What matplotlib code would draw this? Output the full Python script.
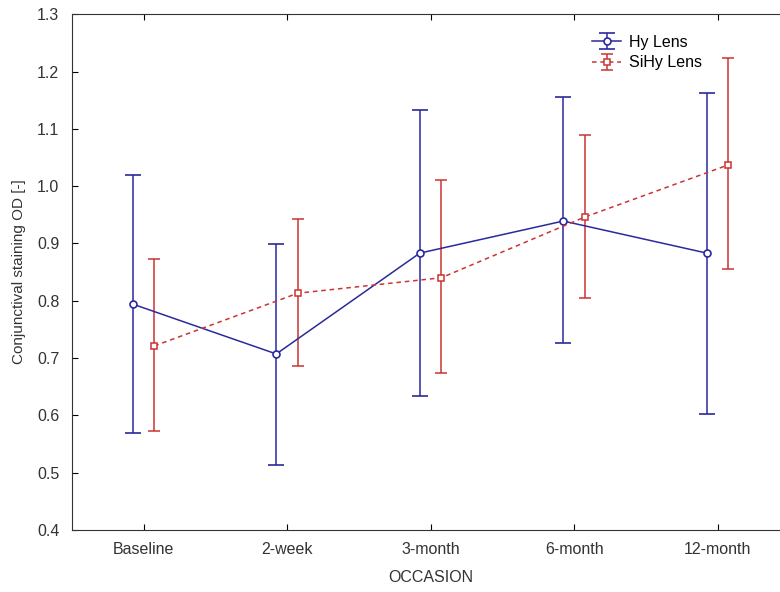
import matplotlib
matplotlib.use("Agg")
import matplotlib.pyplot as plt
import numpy as np

plt.rcParams['font.family'] = ['Liberation Sans', 'DejaVu Sans']

# données
occasions = ["Baseline", "2-week", "3-month", "6-month", "12-month"]
hy_moy = [0.794, 0.707, 0.883, 0.939, 0.883]
hy_haut = [1.020, 0.899, 1.132, 1.155, 1.162]
hy_bas = [0.569, 0.513, 0.634, 0.726, 0.602]
sihy_moy = [0.721, 0.813, 0.840, 0.946, 1.037]
sihy_haut = [0.873, 0.942, 1.010, 1.090, 1.224]
sihy_bas = [0.573, 0.686, 0.674, 0.805, 0.855]

x = np.arange(len(occasions))
bleu = '#2a2a9c'
rouge = '#cc3333'

fig = plt.figure(figsize=(7.8, 5.92), dpi=100)
# l'axe déborde à droite, comme sur l'original (bord droit coupé)
ax = fig.add_axes([0.092, 0.105, 0.92, 0.871])

hy_m = np.array(hy_moy)
si_m = np.array(sihy_moy)
err_hy = [hy_m - np.array(hy_bas), np.array(hy_haut) - hy_m]
err_si = [si_m - np.array(sihy_bas), np.array(sihy_haut) - si_m]

ax.errorbar(x - 0.075, hy_m, yerr=err_hy, color=bleu, marker='o', ms=5,
            mfc='white', mec=bleu, mew=1.2, lw=1.1, elinewidth=1.1,
            capsize=5.5, capthick=1.1, label='Hy Lens')
ax.errorbar(x + 0.075, si_m, yerr=err_si, color=rouge, marker='s', ms=5,
            mfc='white', mec=rouge, mew=1.1, lw=1.1, ls='--', elinewidth=1.1,
            capsize=4.5, capthick=1.1, label='SiHy Lens', dashes=(3, 2.5))

ax.set_xlim(-0.5, 4.5)
ax.set_ylim(0.4, 1.3)
ax.set_xticks(x)
ax.set_xticklabels(occasions)
ax.set_yticks(np.arange(0.4, 1.31, 0.1))
ax.set_yticklabels(["%.1f" % v for v in np.arange(0.4, 1.31, 0.1)])
ax.tick_params(direction='in', top=True, right=False, labelsize=11.5,
               labelcolor='#333333', length=4)
ax.tick_params(axis='x', pad=9)
ax.tick_params(axis='y', pad=9)
ax.set_xlabel("OCCASION", fontsize=11.5, color='#333333', labelpad=9)
ax.set_ylabel("Conjunctival staining OD [-]", fontsize=11, color='#333333', labelpad=8)
for s in ax.spines.values():
    s.set_color('#333333')

ax.legend(loc='upper left', bbox_to_anchor=(0.71, 0.982), frameon=False,
          fontsize=11.5, handlelength=1.8, handletextpad=0.5,
          labelspacing=0.35, borderpad=0.2)

fig.savefig("out.png", dpi=100)
